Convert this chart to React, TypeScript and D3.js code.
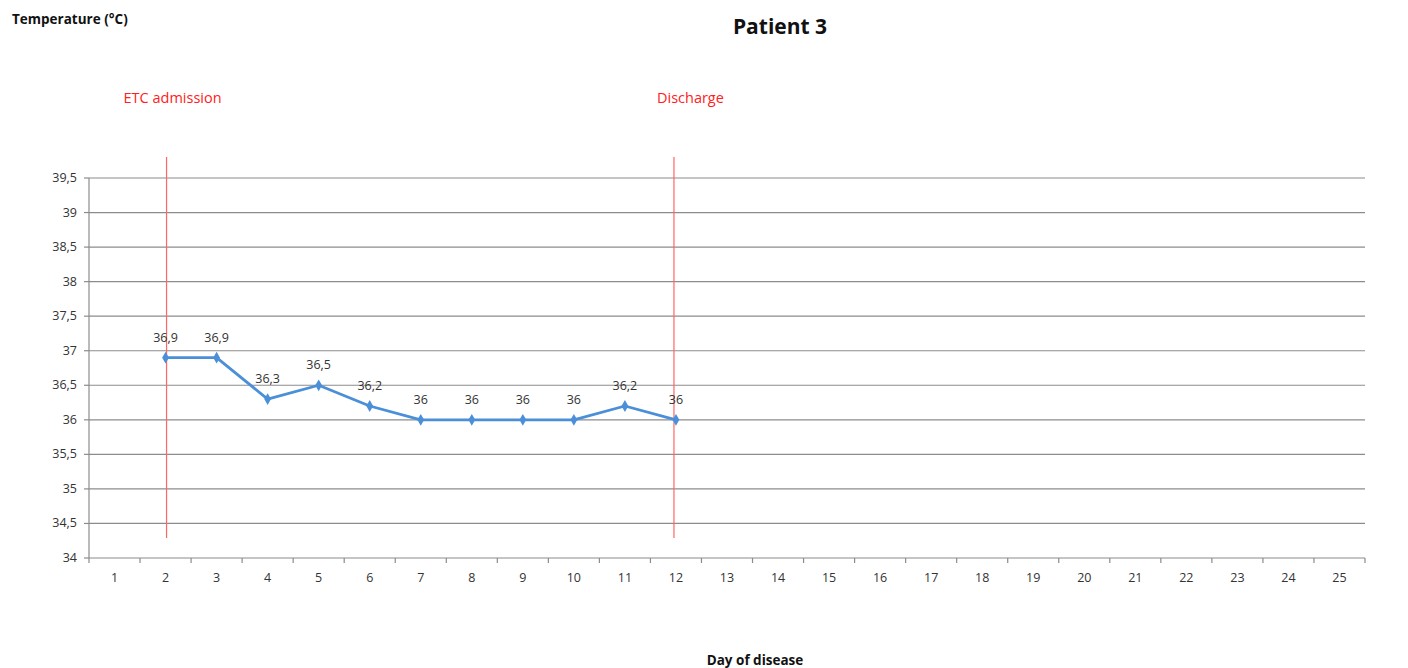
import React from "react";
import * as d3 from "d3";

const days: number[] = Array.from({ length: 25 }, (_, i) => i + 1);
const seriesDays: number[] = [2, 3, 4, 5, 6, 7, 8, 9, 10, 11, 12];
const temps: number[] = [36.9, 36.9, 36.3, 36.5, 36.2, 36, 36, 36, 36, 36.2, 36];
const yTicks: number[] = [34, 34.5, 35, 35.5, 36, 36.5, 37, 37.5, 38, 38.5, 39, 39.5];
const eventDays: number[] = [2, 12];
const eventLabels: string[] = ["ETC admission", "Discharge"];

const W = 1408;
const H = 668;
const left = 89;
const right = 1365;
const top = 178;
const bottom = 558;
const labelOffsets = [-42, -19];

const fmt = (v: number) => String(v).replace(".", ",");

export default function App() {
  const x = d3.scaleBand<number>().domain(days).range([left, right]).padding(0);
  const cx = (d: number) => (x(d) as number) + x.bandwidth() / 2;
  const y = d3.scaleLinear().domain([34, 39.5]).range([bottom, top]);
  const pts = seriesDays.map((d, i) => [cx(d), y(temps[i])] as [number, number]);
  const line = d3.line<[number, number]>()(pts) || "";
  const font = "'Open Sans', 'Liberation Sans', sans-serif";
  const diamond = d3.symbol().type(d3.symbolDiamond).size(40)() || "";

  return (
    <svg width={W} height={H} style={{ position: "absolute", left: 0, top: 0, background: "#fff" }} fontFamily={font}>
      <text x={12} y={24} fontSize={13.5} fontWeight="bold" fill="#111">Temperature (°C)</text>
      <text x={780} y={34} fontSize={21} fontWeight="bold" textAnchor="middle" fill="#111">Patient 3</text>
      <text x={755} y={665} fontSize={13.5} fontWeight="bold" textAnchor="middle" fill="#111">Day of disease</text>

      {yTicks.map((t) => (
        <g key={t}>
          <line x1={left} x2={right} y1={y(t)} y2={y(t)} stroke="#8c8c8c" strokeWidth={1.2} />
          <line x1={left - 5} x2={left} y1={y(t)} y2={y(t)} stroke="#8c8c8c" strokeWidth={1.2} />
          <text x={left - 12} y={y(t) + 4} fontSize={12.5} textAnchor="end" fill="#333">{fmt(t)}</text>
        </g>
      ))}
      <line x1={left} x2={left} y1={top} y2={bottom} stroke="#8c8c8c" strokeWidth={1.2} />
      {days.map((d) => (
        <g key={d}>
          <line x1={x(d) as number} x2={x(d) as number} y1={bottom} y2={bottom + 5} stroke="#8c8c8c" strokeWidth={1.2} />
          <text x={cx(d)} y={bottom + 24} fontSize={12.5} textAnchor="middle" fill="#333">{d}</text>
        </g>
      ))}
      <line x1={right} x2={right} y1={bottom} y2={bottom + 5} stroke="#8c8c8c" strokeWidth={1.2} />

      {eventDays.map((d, i) => (
        <g key={d}>
          <line x1={cx(d) + (i === 0 ? 1 : -2)} x2={cx(d) + (i === 0 ? 1 : -2)} y1={157} y2={538} stroke="#ff6666" strokeWidth={1.2} />
          <text x={cx(d) + labelOffsets[i]} y={103} fontSize={14.5} fill="#ff2020">{eventLabels[i]}</text>
        </g>
      ))}

      <path d={line} fill="none" stroke="#4a8fd8" strokeWidth={2.8} strokeLinejoin="round" />
      {pts.map((p, i) => (
        <g key={i}>
          <path d={diamond} transform={`translate(${p[0]},${p[1]})`} fill="#4a8fd8" />
          <text x={p[0]} y={p[1] - 16} fontSize={12.5} textAnchor="middle" fill="#333">{fmt(temps[i])}</text>
        </g>
      ))}
    </svg>
  );
}
